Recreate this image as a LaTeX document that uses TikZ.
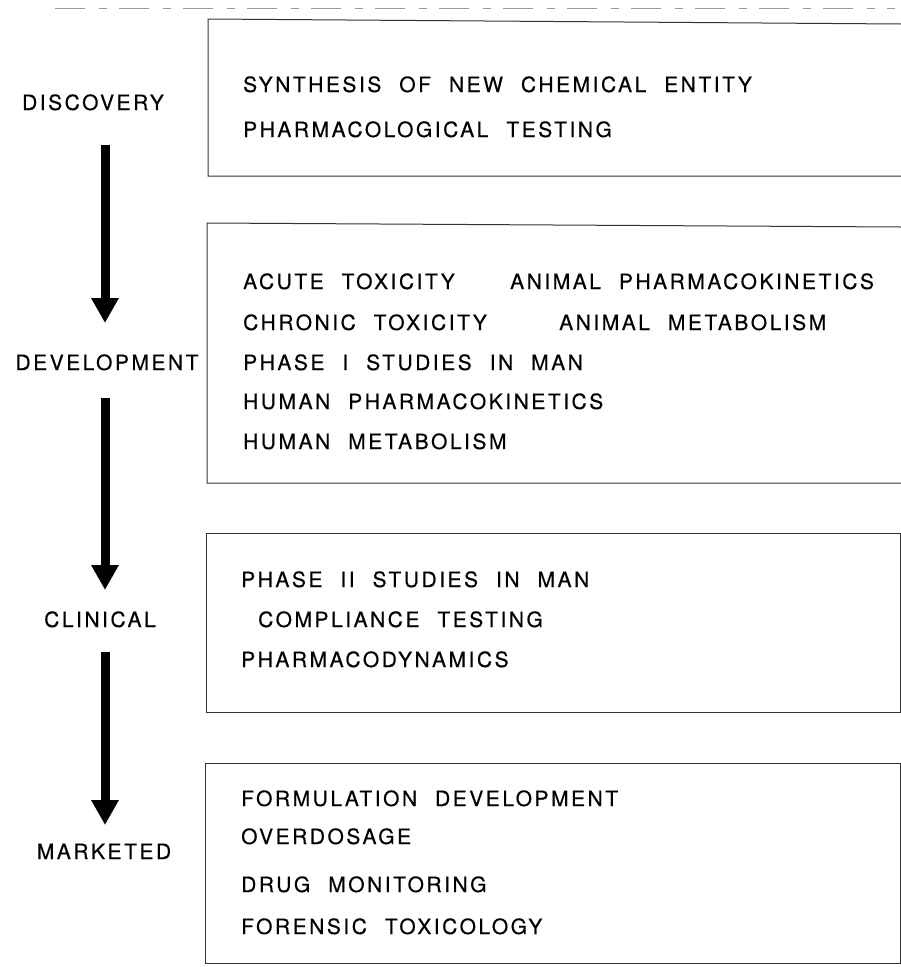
\documentclass[tikz,border=0pt]{standalone}
\usepackage{fontspec}
\usetikzlibrary{arrows.meta}
\newfontfamily\lbl{TeX Gyre Heros}[LetterSpace=12,WordSpace=2.15,FakeBold=0.4]
\begin{document}
\begin{tikzpicture}[x=1pt,y=-1pt,
  txt/.style={anchor=base west,inner sep=0pt,font=\lbl\fontsize{21}{24}\selectfont},
  stage/.style={anchor=base,inner sep=0pt,font=\lbl\fontsize{21}{24}\selectfont},
  frame/.style={draw=black!80,line width=1pt},
  bigarrow/.style={line width=9pt,-{Triangle[width=26pt,length=25pt]}},
  topline/.style={draw=black!40,line width=1pt,dash pattern=on 30pt off 14pt on 8pt off 12pt}]
\useasboundingbox[fill=white] (0,0) rectangle (901,967);
% top dashed line
\coordinate (tl1) at (55,8);
\coordinate (tl2) at (895,8);
\draw[topline] (tl1) -- (tl2);
% boxes
\draw[frame] (901,24) -- (208,19) -- (208,176) -- (901,176);
\draw[frame] (901,227) -- (207,223) -- (207,483) -- (901,483);
\draw[frame] (206,533) rectangle (900,712);
\draw[frame] (205,763) rectangle (900,963);
% stage labels
\node[stage] (disc) at (93,110) {DISCOVERY};
\node[stage] (dev) at (107,370) {DEVELOPMENT};
\node[stage] (clin) at (100,627) {CLINICAL};
\node[stage] (mark) at (104,859) {MARKETED};
% arrows
\coordinate (a1s) at (105,145); \coordinate (a1e) at (105,323);
\coordinate (a2s) at (105,398); \coordinate (a2e) at (105,590);
\coordinate (a3s) at (105,652); \coordinate (a3e) at (105,825);
\draw[bigarrow] (a1s) -- (a1e);
\draw[bigarrow] (a2s) -- (a2e);
\draw[bigarrow] (a3s) -- (a3e);
% box 1
\node[txt] (t11) at (243,92) {SYNTHESIS OF NEW CHEMICAL ENTITY};
\node[txt] (t12) at (243,137) {PHARMACOLOGICAL TESTING};
% box 2
\node[txt] (t21) at (243,289) {ACUTE TOXICITY};
\node[txt] (t21b) at (510,289) {ANIMAL PHARMACOKINETICS};
\node[txt] (t22) at (243,330) {CHRONIC TOXICITY};
\node[txt] (t22b) at (559,330) {ANIMAL METABOLISM};
\node[txt] (t23) at (243,370) {PHASE I STUDIES IN MAN};
\node[txt] (t24) at (243,409) {HUMAN PHARMACOKINETICS};
\node[txt] (t25) at (243,449) {HUMAN METABOLISM};
% box 3
\node[txt] (t31) at (241,587) {PHASE II STUDIES IN MAN};
\node[txt] (t32) at (258,627) {COMPLIANCE TESTING};
\node[txt] (t33) at (241,667) {PHARMACODYNAMICS};
% box 4
\node[txt] (t41) at (241,806) {FORMULATION DEVELOPMENT};
\node[txt] (t42) at (241,844) {OVERDOSAGE};
\node[txt] (t43) at (241,892) {DRUG MONITORING};
\node[txt] (t44) at (241,934) {FORENSIC TOXICOLOGY};
\end{tikzpicture}
\end{document}
